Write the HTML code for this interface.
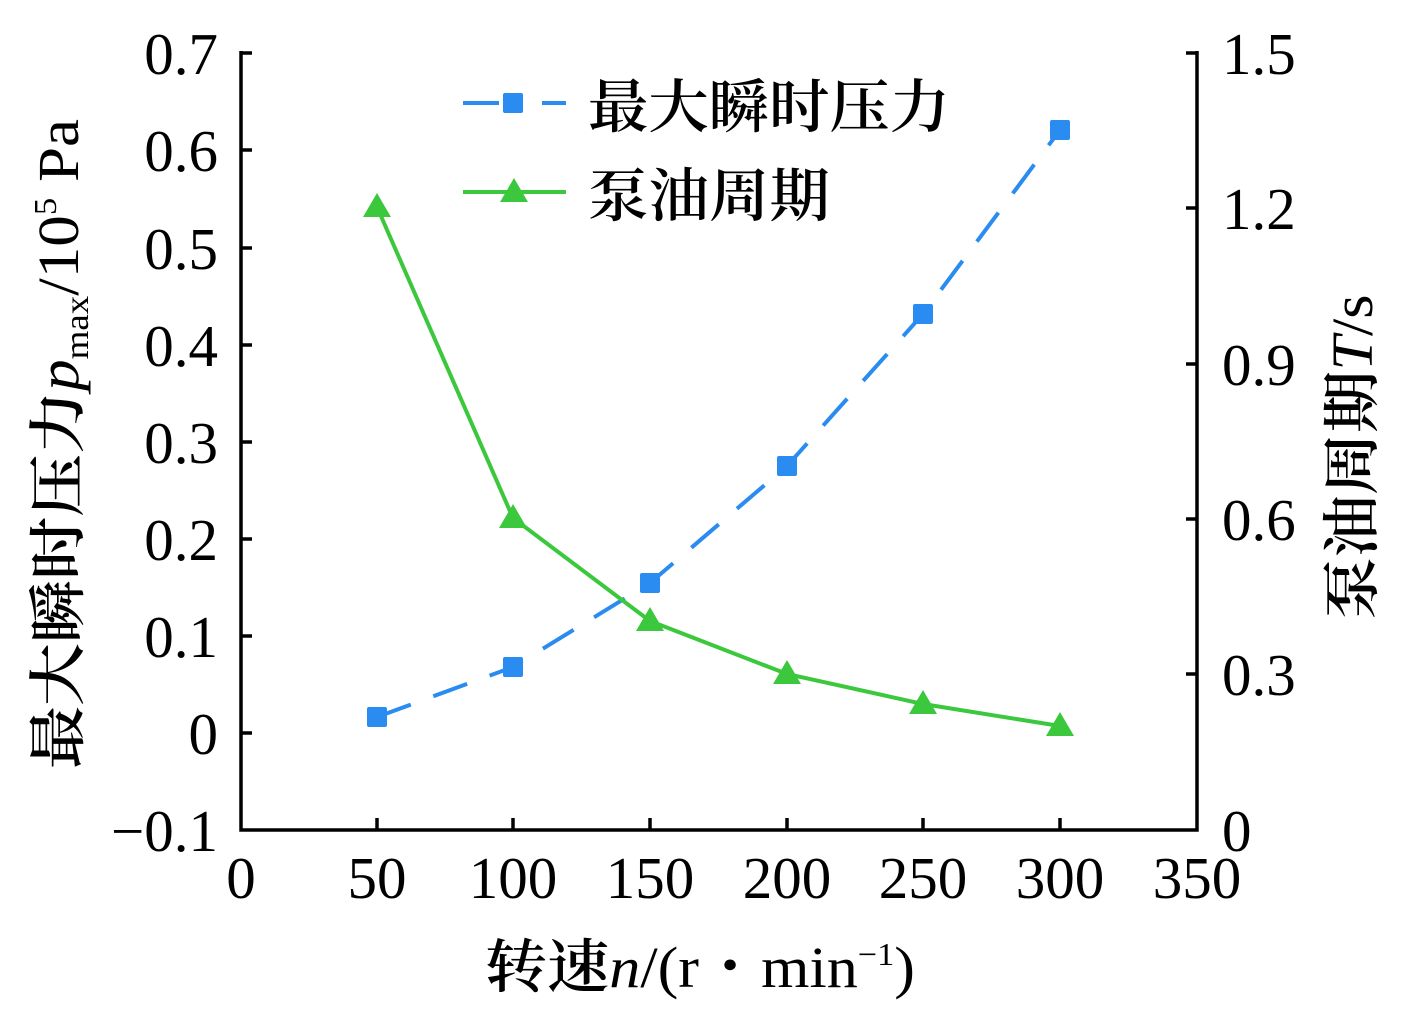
<!DOCTYPE html>
<html><head><meta charset="utf-8"><style>
body{margin:0;background:#fff}
svg{display:block}
.t{font-family:"Liberation Serif",serif;font-size:59px;fill:#000}
.c{font-family:"Liberation Serif","Noto Serif CJK SC",serif;font-size:58px;fill:#000;font-weight:600}
.c tspan.l{font-weight:400}
</style></head><body>
<svg width="1413" height="1031" viewBox="0 0 1413 1031">
<g stroke="#000" stroke-width="3.5" fill="none">
<polyline points="241,51 241,830 1197,830 1197,51"/>
<path d="M241,53h11M241,150h11M241,248h11M241,345h11M241,442h11M241,539h11M241,636h11M241,733h11"/>
<path d="M1197,53h-11M1197,208h-11M1197,364h-11M1197,519h-11M1197,674h-11"/>
<path d="M377,830v-12M513,830v-12M650,830v-12M787,830v-12M923,830v-12M1060,830v-12"/>
</g>
<g class="t" text-anchor="end">
<text x="218" y="74">0.7</text><text x="218" y="171">0.6</text><text x="218" y="269">0.5</text>
<text x="218" y="366">0.4</text><text x="218" y="463">0.3</text><text x="218" y="560">0.2</text>
<text x="218" y="657">0.1</text><text x="218" y="754">0</text><text x="218" y="851">−0.1</text>
</g>
<g class="t" text-anchor="start">
<text x="1222" y="74">1.5</text><text x="1222" y="229">1.2</text><text x="1222" y="385">0.9</text>
<text x="1222" y="540">0.6</text><text x="1222" y="695">0.3</text><text x="1222" y="851">0</text>
</g>
<g class="t" text-anchor="middle">
<text x="241" y="898">0</text><text x="377" y="898">50</text><text x="513" y="898">100</text>
<text x="650" y="898">150</text><text x="787" y="898">200</text><text x="923" y="898">250</text>
<text x="1060" y="898">300</text><text x="1197" y="898">350</text>
</g>
<text class="c" x="700" y="987" text-anchor="middle" textLength="430" lengthAdjust="spacingAndGlyphs">转速<tspan class="l" font-style="italic">n</tspan><tspan class="l">/(r・min</tspan><tspan class="l" font-size="32" dy="-22">−1</tspan><tspan class="l" dy="22">)</tspan></text>
<text class="c" transform="translate(78,444) rotate(-90)" text-anchor="middle" textLength="650" lengthAdjust="spacingAndGlyphs">最大瞬时压力<tspan class="l" font-style="italic">p</tspan><tspan class="l" font-size="34" dy="10">max</tspan><tspan class="l" dy="-10">/10</tspan><tspan class="l" font-size="32" dy="-22">5</tspan><tspan class="l" dy="22"> Pa</tspan></text>
<text class="c" transform="translate(1372,457) rotate(-90)" text-anchor="middle" textLength="325" lengthAdjust="spacingAndGlyphs">泵油周期<tspan class="l" font-style="italic">T</tspan><tspan class="l">/s</tspan></text>
<polyline points="377,717 513,667 650,583 787,466 923,314 1060,130" fill="none" stroke="#2a8cf0" stroke-width="4" stroke-dasharray="36,24"/>
<g fill="#2a8cf0">
<rect x="367" y="707" width="20" height="20" rx="2"/><rect x="503" y="657" width="20" height="20" rx="2"/>
<rect x="640" y="573" width="20" height="20" rx="2"/><rect x="777" y="456" width="20" height="20" rx="2"/>
<rect x="913" y="304" width="20" height="20" rx="2"/><rect x="1050" y="120" width="20" height="20" rx="2"/>
</g>
<polyline points="377,207 513,518 650,621 787,674 923,704 1060,726" fill="none" stroke="#3cc83c" stroke-width="4"/>
<g fill="#3cc83c">
<path d="M377,193 l14,24 h-28z"/><path d="M513,504 l14,24 h-28z"/><path d="M650,607 l14,24 h-28z"/>
<path d="M787,660 l14,24 h-28z"/><path d="M923,690 l14,24 h-28z"/><path d="M1060,712 l14,24 h-28z"/>
</g>
<path d="M463,103h36M542,103h24" stroke="#2a8cf0" stroke-width="4"/>
<rect x="503" y="93" width="20" height="20" rx="2" fill="#2a8cf0"/>
<path d="M463,192h103" stroke="#3cc83c" stroke-width="4"/>
<path d="M514,178 l14,24 h-28z" fill="#3cc83c"/>
<text class="c" x="588" y="127" textLength="362" lengthAdjust="spacingAndGlyphs">最大瞬时压力</text>
<text class="c" x="588" y="216" textLength="242" lengthAdjust="spacingAndGlyphs">泵油周期</text>
</svg>
</body></html>
